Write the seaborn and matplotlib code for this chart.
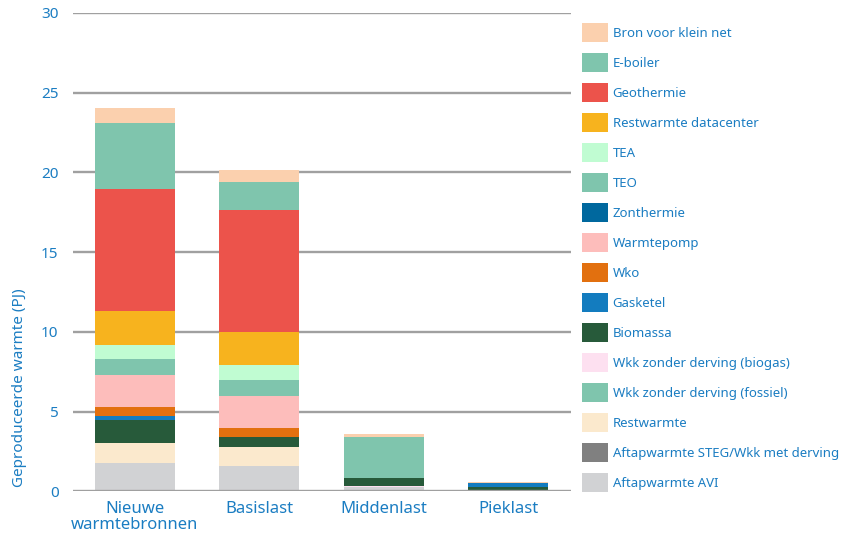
import matplotlib
matplotlib.use("Agg")
import matplotlib.pyplot as plt
import seaborn as sns
import numpy as np
from matplotlib.patches import Patch

# ---- data ----
categories = ["Nieuwe\nwarmtebronnen", "Basislast", "Middenlast", "Pieklast"]

# stacking order bottom -> top
series_names = [
    "Aftapwarmte AVI",
    "Aftapwarmte STEG/Wkk met derving",
    "Restwarmte",
    "Wkk zonder derving (fossiel)",
    "Wkk zonder derving (biogas)",
    "Biomassa",
    "Gasketel",
    "Wko",
    "Warmtepomp",
    "Zonthermie",
    "TEO",
    "TEA",
    "Restwarmte datacenter",
    "Geothermie",
    "E-boiler",
    "Bron voor klein net",
]

aftap_avi = [1.78, 1.59, 0.30, 0.0]
aftap_steg = [0.0, 0.0, 0.0, 0.0]
restwarmte = [1.26, 1.19, 0.0, 0.0]
wkk_fossiel = [0.0, 0.0, 0.0, 0.0]
wkk_biogas = [0.0, 0.0, 0.06, 0.0]
biomassa = [1.44, 0.63, 0.50, 0.28]
gasketel = [0.27, 0.0, 0.0, 0.25]
wko = [0.54, 0.56, 0.0, 0.0]
warmtepomp = [2.02, 2.01, 0.0, 0.0]
zonthermie = [0.0, 0.0, 0.0, 0.0]
teo = [1.01, 1.01, 0.0, 0.0]
tea = [0.87, 0.94, 0.0, 0.0]
restwarmte_dc = [2.13, 2.07, 0.0, 0.0]
geothermie = [7.66, 7.66, 0.0, 0.0]
e_boiler = [4.14, 1.76, 2.55, 0.0]
bron_klein_net = [0.94, 0.75, 0.19, 0.06]

series_values = [
    aftap_avi, aftap_steg, restwarmte, wkk_fossiel, wkk_biogas, biomassa,
    gasketel, wko, warmtepomp, zonthermie, teo, tea, restwarmte_dc,
    geothermie, e_boiler, bron_klein_net,
]

series_colors = [
    "#d1d2d4", "#808080", "#fbe9cd", "#7fc5ad", "#fde0f0", "#275a3a",
    "#137cbf", "#e2700f", "#fdbdbb", "#00689e", "#7fc5ad", "#c0fcd2",
    "#f7b31e", "#ec534b", "#7fc5ad", "#fbd0ae",
]

yticks = [0, 5, 10, 15, 20, 25, 30]
ylabel = "Geproduceerde warmte (PJ)"

# ---- style ----
sns.set_theme(style="white")
plt.rcParams["font.family"] = ["Noto Sans", "DejaVu Sans"]
blue = "#1b7dc2"
grid_c = "#a0a0a0"

fig = plt.figure(figsize=(8.41, 5.34), dpi=100)
ax = fig.add_axes([72.5 / 841, 1 - 491.3 / 534, (570.5 - 72.5) / 841, (491.3 - 13) / 534])

bottom = np.zeros(len(categories))
for name, vals, col in zip(series_names, series_values, series_colors):
    sns.barplot(x=categories, y=vals, bottom=bottom, color=col, saturation=1,
                width=0.64, errorbar=None, linewidth=0, ax=ax, zorder=2)
    bottom = bottom + np.array(vals)

ax.set_ylim(0, 30)
ax.set_xlim(-0.5, 3.5)
ax.set_yticks(yticks)
ax.set_yticklabels([str(t) for t in yticks])
for y in yticks[1:]:
    ax.axhline(y, color=grid_c, lw=1.7, zorder=1)
ax.axhline(0, color=grid_c, lw=1.7, zorder=3)
for s in ax.spines.values():
    s.set_visible(False)
ax.tick_params(axis="y", length=0, pad=10, labelsize=11, labelcolor=blue)
ax.tick_params(axis="x", length=0, pad=7, labelsize=12, labelcolor=blue)
for lab in ax.get_xticklabels():
    lab.set_linespacing(1.0)
ax.set_xlabel("")
ax.set_ylabel(ylabel, color=blue, fontsize=11)
ax.yaxis.set_label_coords(-0.091, 0.216)

handles = [Patch(facecolor=c, edgecolor="none", label=n)
           for n, c in zip(series_names, series_colors)][::-1]
leg = fig.legend(handles=handles, loc="upper left",
                 bbox_to_anchor=(582 / 841, 1 - 23.5 / 534), frameon=False,
                 fontsize=9.5, handlelength=1.95, handleheight=1.75,
                 labelspacing=0.89, handletextpad=0.38, borderpad=0,
                 borderaxespad=0)
for t in leg.get_texts():
    t.set_color(blue)

fig.savefig("out.png", dpi=100)
